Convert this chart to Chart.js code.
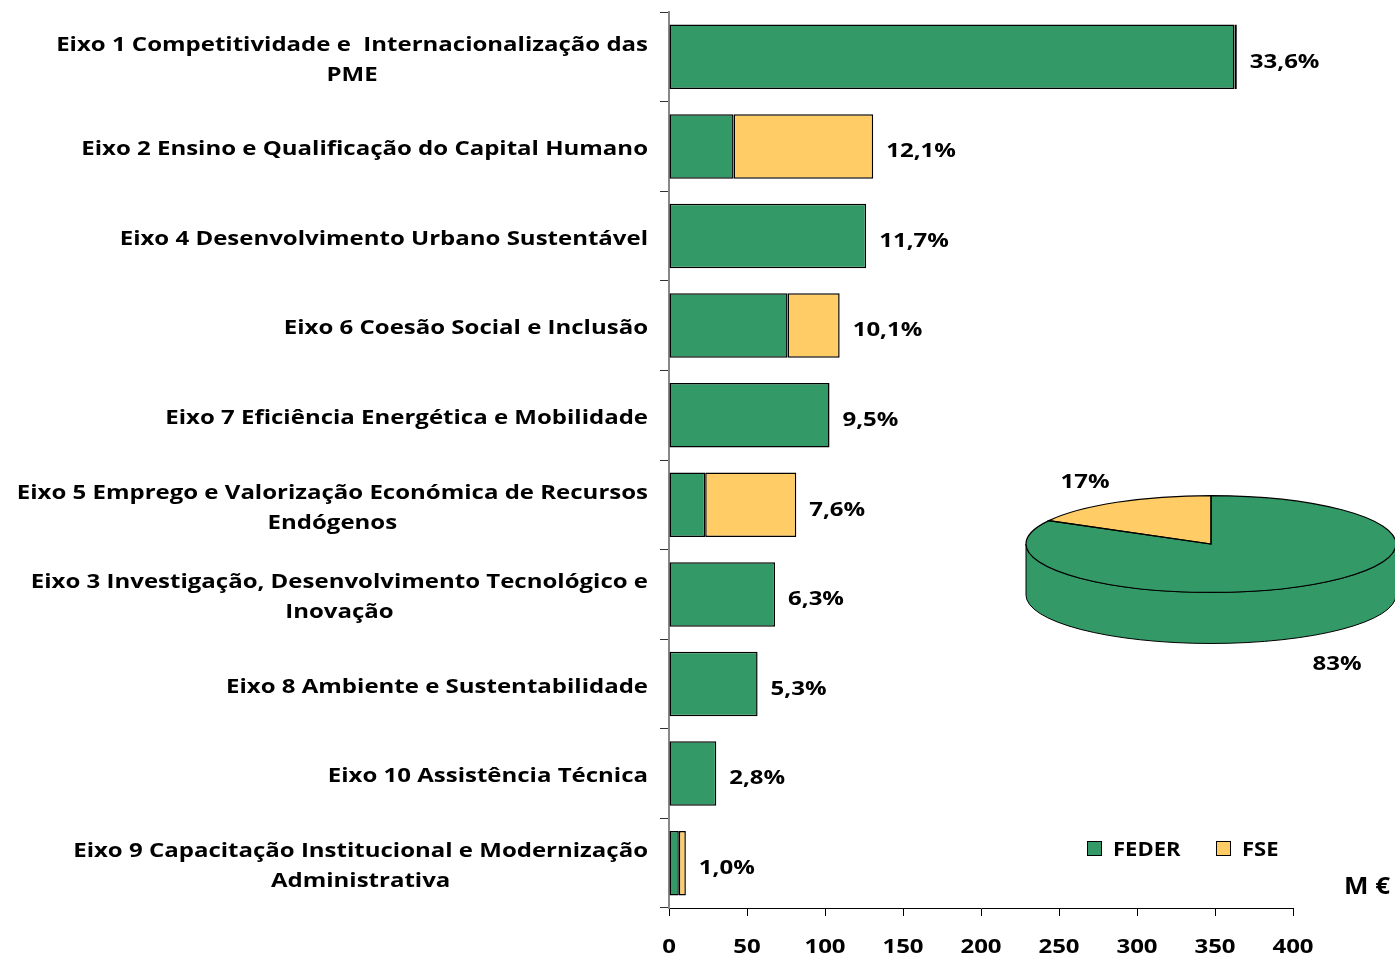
<!DOCTYPE html>
<html><head><meta charset="utf-8">
<script src="https://cdn.jsdelivr.net/npm/chart.js@4.4.1/dist/chart.umd.min.js"></script>
<style>
html,body{margin:0;padding:0;background:#fff;overflow:hidden;width:1395px;height:956px;}
#wrap{position:relative;width:1395px;height:956px;}
#bar{position:absolute;left:0;top:0;}
#pie{position:absolute;left:1021px;top:354px;pointer-events:none;}
</style></head>
<body><div id="wrap"><canvas id="bar" width="1395" height="956"></canvas><canvas id="pie" width="380" height="380"></canvas></div>
<script>
const categories = [
  ["Eixo 1 Competitividade e  Internacionalização das", "PME"],
  ["Eixo 2 Ensino e Qualificação do Capital Humano"],
  ["Eixo 4 Desenvolvimento Urbano Sustentável"],
  ["Eixo 6 Coesão Social e Inclusão"],
  ["Eixo 7 Eficiência Energética e Mobilidade"],
  ["Eixo 5 Emprego e Valorização Económica de Recursos", "Endógenos"],
  ["Eixo 3 Investigação, Desenvolvimento Tecnológico e", "Inovação"],
  ["Eixo 8 Ambiente e Sustentabilidade"],
  ["Eixo 10 Assistência Técnica"],
  ["Eixo 9 Capacitação Institucional e Modernização", "Administrativa"]
];
const federValues = [362.5, 41.4, 126.4, 76.0, 102.9, 23.2, 68.0, 56.8, 30.3, 6.3];
const fseValues   = [1.5, 89.5, null, 33.4, null, 58.4, null, null, null, 4.5];
const shareLabels = ["33,6%", "12,1%", "11,7%", "10,1%", "9,5%", "7,6%", "6,3%", "5,3%", "2,8%", "1,0%"];
const xTickValues = [0, 50, 100, 150, 200, 250, 300, 350, 400];
const seriesNames = ["FEDER", "FSE"];
const pieValues = [83, 17];
const pieLabels = ["83%", "17%"];
const unitLabel = "M €";

const GREEN = "#339966", YELLOW = "#FFCC66";
const FONT = '"Open Sans", "DejaVu Sans", sans-serif';
const S = 1.2;

function sText(ctx, text, x, y, align, f) {
  f = f || S;
  ctx.save();
  ctx.translate(x, y);
  ctx.scale(f, 1);
  ctx.textAlign = align;
  ctx.fillText(text, 0, 0);
  ctx.restore();
}

const labelPlugin = {
  id: 'labels',
  afterDraw(chart) {
    const ctx = chart.ctx, ys = chart.scales.y, xs = chart.scales.x;
    ctx.save();
    ctx.fillStyle = '#000';
    ctx.font = '700 20px ' + FONT;
    ctx.textBaseline = 'middle';
    // category labels
    categories.forEach((lines, i) => {
      const yp = ys.getPixelForValue(i);
      let maxW = 0;
      lines.forEach(l => { maxW = Math.max(maxW, ctx.measureText(l).width * S); });
      const cx = 648 - maxW / 2;
      lines.forEach((l, j) => {
        sText(ctx, l, cx, yp + (j - (lines.length - 1) / 2) * 30 + 3, 'center');
      });
    });
    // share labels
    shareLabels.forEach((t, i) => {
      const total = (federValues[i] || 0) + (fseValues[i] || 0);
      const xp = xs.getPixelForValue(total);
      sText(ctx, t, xp + 13, ys.getPixelForValue(i) + 5, 'left');
    });
    // x tick labels
    xTickValues.forEach(v => {
      sText(ctx, String(v), xs.getPixelForValue(v), 947, 'center');
    });
    // legend
    const items = [[1087, GREEN], [1216, YELLOW]];
    items.forEach(([x, c], k) => {
      ctx.fillStyle = c; ctx.fillRect(x + 0.5, 841.5, 14, 14);
      ctx.strokeStyle = '#000'; ctx.lineWidth = 1; ctx.strokeRect(x + 0.5, 841.5, 14, 14);
      ctx.fillStyle = '#000';
      sText(ctx, seriesNames[k], x + 26, 850, 'left', 1.1);
    });
    ctx.font = '700 24px ' + FONT;
    sText(ctx, unitLabel, 1344, 887, 'left', 1.08);
    ctx.restore();
  }
};

new Chart(document.getElementById('bar'), {
  type: 'bar',
  data: {
    labels: categories.map(c => c.join(' ')),
    datasets: [
      { label: seriesNames[0], data: federValues, backgroundColor: GREEN, borderColor: '#000', borderWidth: 1.5, borderSkipped: false },
      { label: seriesNames[1], data: fseValues, backgroundColor: YELLOW, borderColor: '#000', borderWidth: 1.5, borderSkipped: false }
    ]
  },
  options: {
    indexAxis: 'y',
    responsive: false,
    animation: false,
    devicePixelRatio: 1,
    events: [],
    barPercentage: 0.72,
    categoryPercentage: 1,
    layout: { padding: { left: 0, right: 102, top: 12, bottom: 0 } },
    plugins: { legend: { display: false }, tooltip: { enabled: false } },
    scales: {
      x: {
        stacked: true, min: 0, max: 400,
        afterBuildTicks(scale) { scale.ticks = xTickValues.map(v => ({ value: v })); },
        afterFit(scale) { scale.height = 48; },
        ticks: { display: false },
        grid: { drawOnChartArea: false, drawTicks: true, tickLength: 8, color: '#000', lineWidth: 1 },
        border: { display: true, color: '#000', width: 1 }
      },
      y: {
        stacked: true, offset: true,
        afterFit(scale) { scale.width = 669; },
        ticks: { display: false },
        grid: { offset: true, drawOnChartArea: false, drawTicks: true, tickLength: 9, color: '#333', lineWidth: 1 },
        border: { display: true, color: '#888', width: 2 }
      }
    }
  },
  plugins: [labelPlugin]
});

// 3D-look pie
const K = 0.262, DEPTH = 51;
function wallSegments(s, e) {
  const out = [];
  for (const off of [-2 * Math.PI, 0, 2 * Math.PI]) {
    const a = Math.max(s, off), b = Math.min(e, off + Math.PI);
    if (b > a) out.push([a - off, b - off]);
  }
  return out;
}
const piePlugin = {
  id: 'pie3d',
  beforeDatasetsDraw(chart) {
    const ctx = chart.ctx;
    const meta = chart.getDatasetMeta(0);
    const el0 = meta.data[0];
    const cx = el0.x, cy = el0.y, R = el0.outerRadius;
    ctx.save();
    ctx.lineWidth = 1; ctx.strokeStyle = '#000';
    meta.data.forEach((el, i) => {
      wallSegments(el.startAngle, el.endAngle).forEach(([a, b]) => {
        ctx.beginPath();
        ctx.ellipse(cx, cy, R, R * K, 0, a, b, false);
        ctx.ellipse(cx, cy + DEPTH, R, R * K, 0, b, a, true);
        ctx.closePath();
        ctx.fillStyle = chart.data.datasets[0].backgroundColor[i];
        ctx.fill(); ctx.stroke();
      });
    });
    ctx.restore();
    ctx.save();
    ctx.translate(0, cy); ctx.scale(1, K); ctx.translate(0, -cy);
  },
  afterDatasetsDraw(chart) {
    const ctx = chart.ctx;
    ctx.restore();
    const meta = chart.getDatasetMeta(0);
    ctx.save();
    ctx.lineWidth = 1.2; ctx.strokeStyle = '#000';
    meta.data.forEach(el => {
      ctx.beginPath();
      ctx.moveTo(el.x, el.y);
      ctx.ellipse(el.x, el.y, el.outerRadius, el.outerRadius * K, 0, el.startAngle, el.endAngle, false);
      ctx.closePath();
      ctx.stroke();
    });
    ctx.fillStyle = '#000';
    ctx.font = '700 20px ' + FONT;
    ctx.textBaseline = 'middle';
    const el0 = meta.data[0];
    sText(ctx, pieLabels[1], el0.x - 126, el0.y - 62, 'center');
    sText(ctx, pieLabels[0], el0.x + 126, el0.y + 120, 'center');
    ctx.restore();
  }
};
new Chart(document.getElementById('pie'), {
  type: 'pie',
  data: { labels: seriesNames, datasets: [{ data: pieValues, backgroundColor: [GREEN, YELLOW], borderWidth: 0 }] },
  options: {
    responsive: false, animation: false, devicePixelRatio: 1, events: [],
    layout: { padding: 5 },
    plugins: { legend: { display: false }, tooltip: { enabled: false } }
  },
  plugins: [piePlugin]
});
</script>
</body></html>
